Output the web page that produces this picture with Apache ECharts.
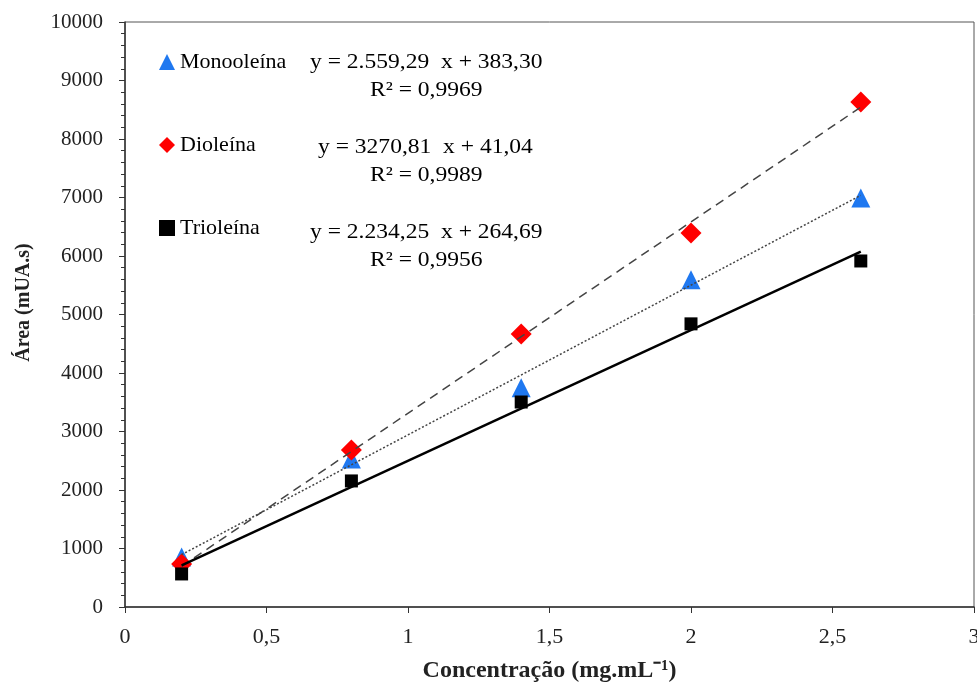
<!DOCTYPE html>
<html>
<head>
<meta charset="utf-8">
<script src="https://cdn.jsdelivr.net/npm/echarts@6/dist/echarts.min.js"></script>
<style>
  html, body { margin: 0; padding: 0; background: #fff; }
  #main { width: 977px; height: 686px; }
</style>
</head>
<body>
<div id="main"></div>
<script>
var concentracao = [0.2, 0.8, 1.4, 2.0, 2.6];
var monooleina = [855, 2530, 3750, 5595, 6991];
var dioleina = [735, 2684, 4665, 6393, 8632];
var trioleina = [565, 2155, 3504, 4840, 5915];

var retaMono = [2559.29, 383.30];
var retaDio = [3270.81, 41.04];
var retaTrio = [2234.25, 264.69];

var equacoes = [
  ['y = 2.559,29  x + 383,30', 'R² = 0,9969'],
  ['y = 3270,81  x + 41,04', 'R² = 0,9989'],
  ['y = 2.234,25  x + 264,69', 'R² = 0,9956']
];

function pontos(ys) {
  return concentracao.map(function (x, i) { return [x, ys[i]]; });
}
function reta(c) {
  var x0 = concentracao[0], x1 = concentracao[concentracao.length - 1];
  return [[x0, c[0] * x0 + c[1]], [x1, c[0] * x1 + c[1]]];
}

var fonte = '"Liberation Serif", "Times New Roman", serif';
var myChart = echarts.init(document.getElementById('main'));

var option = {
  backgroundColor: '#fff',
  animation: false,
  grid: {
    left: 125, right: 3, top: 22, bottom: 79,
    containLabel: false, outerBoundsMode: 'none',
    show: true, borderColor: '#555', borderWidth: 1
  },
  legend: {
    orient: 'vertical',
    left: 154, top: 46,
    itemGap: 61,
    itemWidth: 16, itemHeight: 16,
    data: ['Monooleína', 'Dioleína', 'Trioleína'],
    textStyle: { fontFamily: fonte, fontSize: 22, color: '#000' }
  },
  xAxis: {
    type: 'value',
    min: 0, max: 3, interval: 0.5,
    axisLine: { lineStyle: { color: '#333', width: 1.5 } },
    axisTick: { show: true, length: 6, lineStyle: { color: '#333' } },
    splitLine: { show: false },
    axisLabel: {
      fontFamily: fonte, fontSize: 22, color: '#222', margin: 19,
      formatter: function (v) { return String(v).replace('.', ','); }
    },
    name: 'Concentração (mg.mL⁻¹)',
    nameLocation: 'middle',
    nameGap: 52,
    nameTextStyle: { fontFamily: fonte, fontSize: 24, fontWeight: 'bold', color: '#222' }
  },
  yAxis: {
    type: 'value',
    min: 0, max: 10000, interval: 1000,
    axisLine: { show: true, lineStyle: { color: '#333', width: 1.5 } },
    axisTick: { show: true, length: 6, lineStyle: { color: '#333' } },
    minorTick: { show: true, splitNumber: 5, length: 4, lineStyle: { color: '#333' } },
    splitLine: { show: false },
    axisLabel: {
      fontFamily: fonte, fontSize: 21, color: '#222', margin: 22,
      formatter: function (v) { return String(v); }
    },
    name: 'Área (mUA.s)',
    nameLocation: 'middle',
    nameGap: 91,
    nameTextStyle: {
      fontFamily: fonte, fontSize: 20, fontWeight: 'bold', color: '#222',
      padding: [0, 0, 0, 24]
    }
  },
  graphic: equacoes.map(function (eq, i) {
    var top = 51 + i * 85;
    var left = i === 1 ? 318 : 310;
    return {
      type: 'group',
      children: [
        { type: 'text', x: left, y: top, scaleX: 1.07,
          style: { text: eq[0], font: '22px ' + fonte, fill: '#000' } },
        { type: 'text', x: 370, y: top + 28, scaleX: 1.07,
          style: { text: eq[1], font: '22px ' + fonte, fill: '#000' } }
      ]
    };
  }),
  series: [
    {
      name: 'Monooleína', type: 'scatter', symbol: 'triangle', symbolSize: 19,
      itemStyle: { color: '#1f78f0', opacity: 1 }, data: pontos(monooleina), z: 2
    },
    {
      name: 'Dioleína', type: 'scatter', symbol: 'diamond', symbolSize: 21,
      itemStyle: { color: '#ff0000', opacity: 1 }, data: pontos(dioleina), z: 2
    },
    {
      name: 'Trioleína', type: 'scatter', symbol: 'rect', symbolSize: 13,
      itemStyle: { color: '#000', opacity: 1 }, data: pontos(trioleina), z: 2
    },
    {
      name: 'retaMono', type: 'line', data: reta(retaMono), showSymbol: false, z: 3,
      lineStyle: { color: '#444', width: 1.5, type: [2, 2] }
    },
    {
      name: 'retaDio', type: 'line', data: reta(retaDio), showSymbol: false, z: 3,
      lineStyle: { color: '#444', width: 1.5, type: [9, 6] }
    },
    {
      name: 'retaTrio', type: 'line', data: reta(retaTrio), showSymbol: false, z: 3,
      lineStyle: { color: '#000', width: 2.5 }
    }
  ]
};
myChart.setOption(option, true);
</script>
</body>
</html>
